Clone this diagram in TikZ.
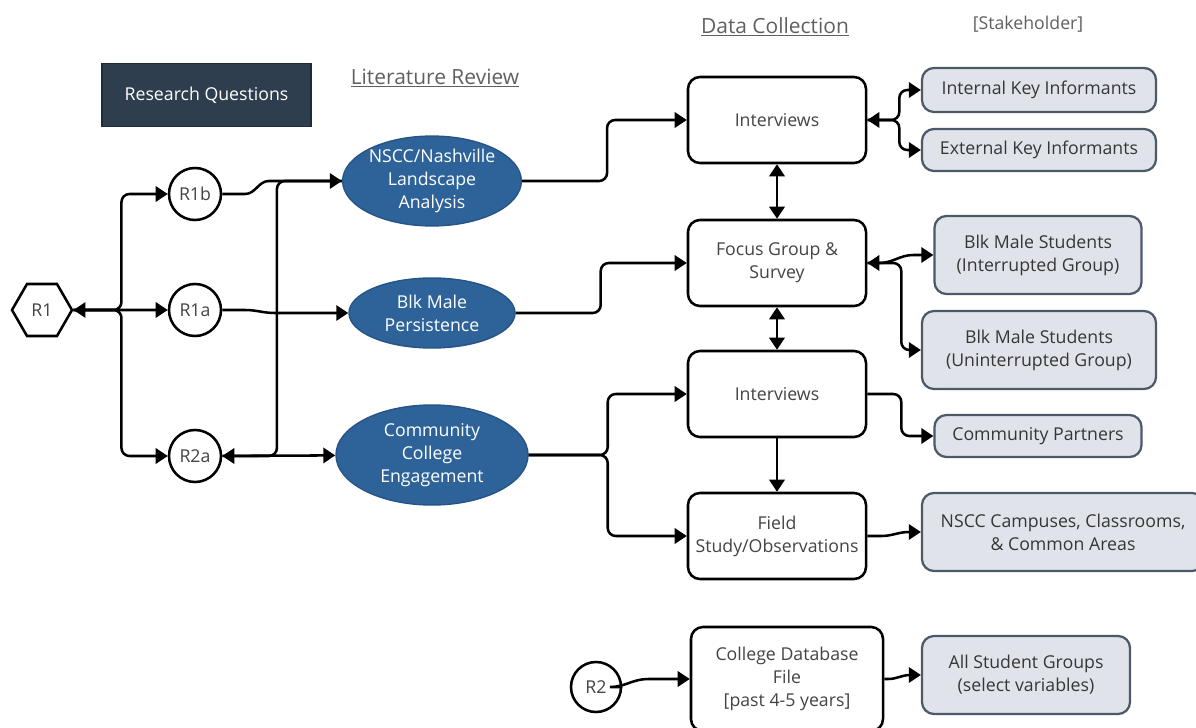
\documentclass[tikz,border=0pt]{standalone}
\usepackage{fontspec}
\setmainfont{Open Sans}
\usetikzlibrary{arrows.meta,shapes.geometric}

\definecolor{navy}{RGB}{47,62,78}
\definecolor{ovalblue}{RGB}{46,99,153}
\definecolor{ovaledge}{RGB}{38,84,134}
\definecolor{shfill}{RGB}{224,228,234}
\definecolor{shedge}{RGB}{75,89,104}
\definecolor{txt}{RGB}{68,68,68}

\tikzset{Tri/.tip={Triangle[length=0.3cm,width=0.38cm]}}

\begin{document}
\begin{tikzpicture}[x=0.025cm,y=-0.025cm,
  font=\fontsize{12.6}{16.3}\selectfont,
  link/.style={line width=1.8pt,rounded corners=0.2cm,-Tri},
  twoway/.style={link,Tri-Tri},
  jog/.style={line width=1.8pt,-Tri},
  head/.style={text=txt!85,font=\fontsize{14.9}{17}\selectfont},
  rqbox/.style={draw=navy!70!black,fill=navy,text=white,line width=1pt,minimum width=5.225cm,minimum height=1.575cm},
  qcirc/.style={draw,circle,line width=1.8pt,fill=white,text=txt,inner sep=0pt,minimum size=1.3cm},
  hexa/.style={draw,regular polygon,regular polygon sides=6,line width=1.8pt,text=txt,inner sep=0pt,minimum size=1.5cm},
  oval/.style={ellipse,draw=ovaledge,fill=ovalblue,line width=1pt,text=white,align=center,inner sep=0pt},
  dcbox/.style={draw,rounded corners=0.3cm,line width=1.8pt,fill=white,text=txt,align=center,minimum width=4.45cm,minimum height=2.15cm},
  shbox/.style={draw=shedge,fill=shfill,rounded corners=0.3cm,line width=1.6pt,text=txt!80!black,align=center}]
\useasboundingbox (0,0) rectangle (1196,728);

% headings
\node[rqbox] (rq) at (206.5,95) {Research Questions};
\node[head] (litrev) at (435,78) {\underline{Literature Review}};
\node[head] (datacol) at (775,27) {\underline{Data Collection}};
\node[head,font=\fontsize{12.6}{15}\selectfont] (stake) at (1028,24) {[Stakeholder]};

% research questions
\node[hexa] (r1) at (42,310) {R1};
\node[qcirc] (r1b) at (195,194) {R1b};
\node[qcirc] (r1a) at (195,310) {R1a};
\node[qcirc] (r2a) at (195,456) {R2a};
\node[qcirc,minimum size=1.25cm] (r2) at (596,687) {R2};

% literature review
\node[oval,minimum width=4.125cm,minimum height=2.15cm] (nscc) at (432,181) {NSCC/Nashville\\Landscape\\Analysis};
\node[oval,minimum width=4.15cm,minimum height=1.75cm] (blk) at (432,313) {Blk Male\\Persistence};
\node[oval,minimum width=4.8cm,minimum height=2.5cm] (cce) at (432,455) {Community\\College\\Engagement};

% data collection
\node[dcbox] (int1) at (777,120) {Interviews};
\node[dcbox] (focus) at (777,263) {Focus Group \&\\Survey};
\node[dcbox] (int2) at (777,394) {Interviews};
\node[dcbox] (field) at (777,536) {Field\\Study/Observations};
\node[dcbox,minimum width=4.8cm,minimum height=2.6cm] (db) at (787,679) {College Database\\File\\{[past 4-5 years]}};

% stakeholders
\node[shbox,minimum width=5.85cm,minimum height=1.1cm] (internal) at (1039,90) {Internal Key Informants};
\node[shbox,minimum width=5.85cm,minimum height=1.05cm] (external) at (1039,150) {External Key Informants};
\node[shbox,minimum width=5.175cm,minimum height=1.95cm] (interr) at (1038,255) {Blk Male Students\\(Interrupted Group)};
\node[shbox,minimum width=5.85cm,minimum height=1.95cm] (uninterr) at (1039,350) {Blk Male Students\\(Uninterrupted Group)};
\node[shbox,minimum width=5.175cm,minimum height=1.05cm] (partners) at (1038,436) {Community Partners};
\node[shbox,minimum width=7.05cm,minimum height=1.95cm] (campus) at (1063,532) {NSCC Campuses, Classrooms,\\\& Common Areas};
\node[shbox,minimum width=5.2cm,minimum height=1.95cm] (allstud) at (1026,675) {All Student Groups\\(select variables)};

% connectors
\draw[twoway] (r1) -- (r1a);
\draw[link] (r1.east) -- ++(48,0) |- (r1b);
\draw[link] (r1.east) -- ++(48,0) |- (r2a);
\draw[jog] (r1b) -- ++(50,0) to[out=0,in=180] ++(24,-13) -- (nscc);
\draw[jog] (r1a) -- ++(50,0) to[out=0,in=180] ++(30,3) -- (blk);
\draw[link] (nscc.west) -- ++(-65,0) |- (r2a);
\draw[link] (r2a) -- (cce);

\draw[link] (nscc.east) -- ++(85,0) |- (int1);
\draw[link] (blk.east) -- ++(85,0) |- (focus);
\draw[link] (cce.east) -- ++(79,0) |- (int2);
\draw[link] (cce.east) -- ++(79,0) |- (field);

\draw[twoway] (int1) -- (focus);
\draw[twoway] (focus) -- (int2);
\draw[link] (int2) -- (field);

\draw[twoway] (int1.east) -- ++(32,0) |- (internal);
\draw[link] (int1.east) -- ++(32,0) |- (external);
\draw[jog,Tri-Tri] (focus.east) -- ++(12,0) to[out=0,in=180] ++(34,-8) -- (interr);
\draw[link] (focus.east) -- ++(34,0) |- (uninterr);
\draw[link] (int2.east) -- ++(34,0) |- (partners);
\draw[jog] (field.east) -- ++(14,0) to[out=0,in=180] ++(28,-4) -- (campus);

\draw[jog] (r2) -- ++(14,0) to[out=0,in=180] ++(38,-8) -- (db);
\draw[jog] (db.east) -- ++(4,0) to[out=0,in=180] ++(22,-4) -- (allstud);

\end{tikzpicture}
\end{document}
